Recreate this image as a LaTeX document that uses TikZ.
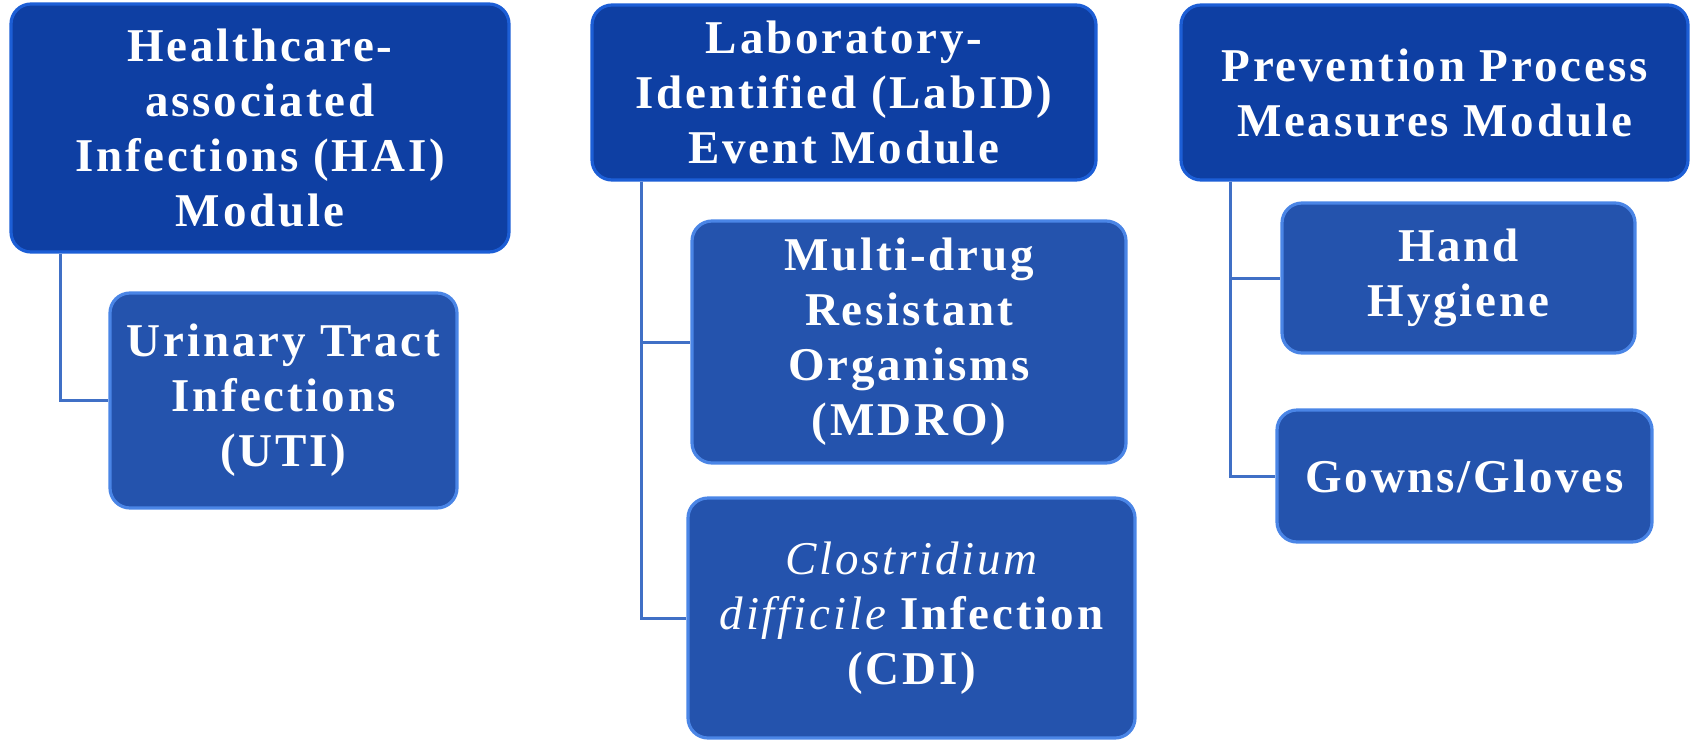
\documentclass[tikz,border=0pt]{standalone}
\usepackage{fontspec}
\setmainfont{Liberation Serif}[LetterSpace=6]
\usetikzlibrary{backgrounds}
\definecolor{topfill}{HTML}{0E3FA3}
\definecolor{topdraw}{HTML}{1C5ED6}
\definecolor{subfill}{HTML}{2453AD}
\definecolor{subdraw}{HTML}{4A85E6}
\definecolor{connc}{HTML}{4070C6}
\begin{document}
\begin{tikzpicture}[x=0.5pt,y=-0.5pt,
  boxbase/.style={rectangle, rounded corners=10pt, line width=1.6pt, text=white, align=center,
    font=\fontsize{23.5}{27.5}\selectfont\bfseries, inner sep=0pt},
  topbox/.style={boxbase, fill=topfill, draw=topdraw},
  subbox/.style={boxbase, fill=subfill, draw=subdraw},
  conn/.style={draw=connc, line width=1.5pt}]
\useasboundingbox (0,0) rectangle (1690,739);
% top-level modules
\node[topbox, minimum width=249pt, minimum height=124pt] (hai) at (260,128)
  {Healthcare-\\associated\\Infections (HAI)\\Module};
\node[topbox, minimum width=252pt, minimum height=87.5pt] (lab) at (844,92.5)
  {Laboratory-\\Identified (LabID)\\Event Module};
\node[topbox, minimum width=253.5pt, minimum height=87.5pt] (ppm) at (1434.5,92.5)
  {Prevention Process\\Measures Module};
% children
\node[subbox, minimum width=173.5pt, minimum height=107.5pt] (uti) at (283.5,400.5)
  {Urinary Tract\\Infections\\(UTI)};
\node[subbox, minimum width=217pt, minimum height=121pt] (mdro) at (909,342)
  {Multi-drug\\Resistant\\Organisms\\(MDRO)};
\node[subbox, minimum width=223.5pt, minimum height=120pt] (cdi) at (911.5,618)
  {{\mdseries\itshape Clostridium}\\{\mdseries\itshape difficile} Infection\\(CDI)};
\node[subbox, minimum width=176.5pt, minimum height=75pt] (hand) at (1458.5,278)
  {Hand\\Hygiene};
\node[subbox, minimum width=187.5pt, minimum height=66pt] (gown) at (1464.5,476)
  {Gowns/Gloves};
% connectors
\begin{scope}[on background layer]
\draw[conn] ([xshift=25.5pt]hai.south west) |- (uti.west);
\draw[conn] ([xshift=25.5pt]lab.south west) |- (mdro.west);
\draw[conn] ([xshift=25.5pt]lab.south west) |- (cdi.west);
\draw[conn] ([xshift=25.5pt]ppm.south west) |- (hand.west);
\draw[conn] ([xshift=25.5pt]ppm.south west) |- (gown.west);
\end{scope}
\end{tikzpicture}
\end{document}
